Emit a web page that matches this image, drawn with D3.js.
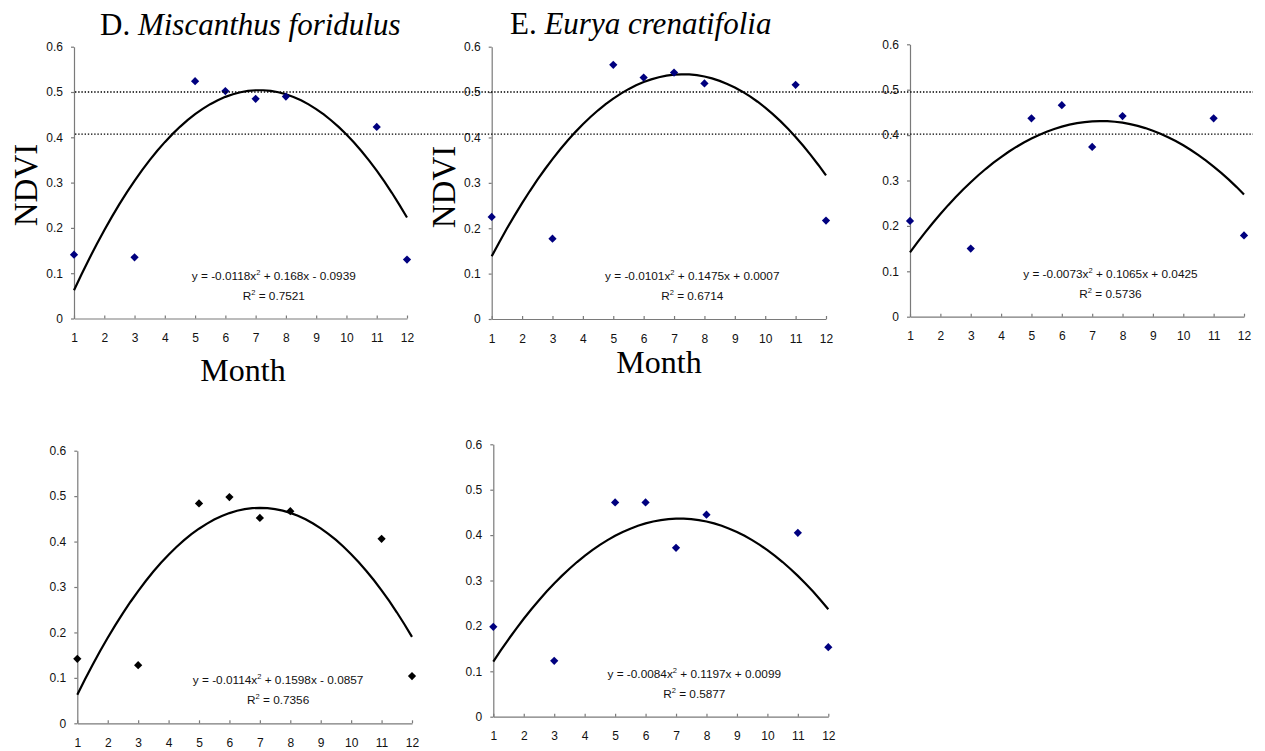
<!DOCTYPE html>
<html>
<head>
<meta charset="utf-8">
<script src="https://cdn.jsdelivr.net/npm/d3@7"></script>
<style>
  body { margin: 0; background: #fff; }
  svg { display: block; }
  .tick text { font-family: "Liberation Sans", Arial, sans-serif; font-size: 12px; fill: #111; }
  .axis path, .axis line { stroke: #7a7a7a; stroke-width: 1.2; }
</style>
</head>
<body>
<div id="chart"></div>
<script>
// months sampled in each panel
const months = [1, 3, 5, 6, 7, 8, 11, 12];
const monthTicks = [1, 2, 3, 4, 5, 6, 7, 8, 9, 10, 11, 12];
const ndviTicks = [0, 0.1, 0.2, 0.3, 0.4, 0.5, 0.6];

// NDVI values
const ndviD = [0.141, 0.135, 0.524, 0.502, 0.485, 0.490, 0.423, 0.130];
const ndviE = [0.225, 0.177, 0.560, 0.532, 0.543, 0.519, 0.516, 0.217];
const ndviC = [0.211, 0.150, 0.437, 0.466, 0.374, 0.442, 0.437, 0.179];
const ndviF = [0.142, 0.128, 0.484, 0.498, 0.452, 0.467, 0.406, 0.104];
const ndviG = [0.198, 0.123, 0.472, 0.472, 0.372, 0.445, 0.405, 0.153];

// printed trendline coefficients [a, b, c] of y = a x^2 + b x + c
const fitD = [-0.0118, 0.168, -0.0939];
const fitE = [-0.0101, 0.1475, 0.0007];
const fitC = [-0.0073, 0.1065, 0.0425];
const fitF = [-0.0114, 0.1598, -0.0857];
const fitG = [-0.0084, 0.1197, 0.0099];
const r2 = ['0.7521', '0.6714', '0.5736', '0.7356', '0.5877'];

// horizontal reference levels (dotted)
const refLevels = [0.5, 0.407];

const W = 1265, H = 751;

// panel layout: plot box in page pixels
const panels = [
  { vals: ndviD, fit: fitD, r2: r2[0], x0: 74, x1: 407, y0: 318.5, y1: 46.7, color: '#00007f',
    title: ['D. ', 'Miscanthus foridulus'], titleX: 100, titleY: 35, ylab: { x: 37, y: 185 }, xlab: { x: 243, y: 381 } },
  { vals: ndviE, fit: fitE, r2: r2[1], x0: 491.7, x1: 826, y0: 319, y1: 46.7, color: '#00007f',
    title: ['E. ', 'Eurya crenatifolia'], titleX: 510, titleY: 34, ylab: { x: 455, y: 187 }, xlab: { x: 659, y: 373 } },
  { vals: ndviC, fit: fitC, r2: r2[2], x0: 910, x1: 1244, y0: 316.7, y1: 44.3, color: '#00007f' },
  { vals: ndviF, fit: fitF, r2: r2[3], x0: 77.3, x1: 412, y0: 723.3, y1: 450.7, color: '#000000' },
  { vals: ndviG, fit: fitG, r2: r2[4], x0: 493.3, x1: 828.3, y0: 716.7, y1: 444.3, color: '#00007f' }
];

const svg = d3.select('#chart').append('svg')
  .attr('width', W)
  .attr('height', H)
  .attr('viewBox', `0 0 ${W} ${H}`);

svg.append('rect').attr('width', W).attr('height', H).attr('fill', '#fff');

function eqParts(f) {
  const sgn = v => (v < 0 ? ' - ' : ' + ');
  const num = v => String(+Math.abs(v).toFixed(4));
  return [
    'y = ' + (f[0] < 0 ? '-' : '') + num(f[0]) + 'x',
    sgn(f[1]) + num(f[1]) + 'x' + sgn(f[2]) + num(f[2])
  ];
}

let firstY = null;

panels.forEach((p, i) => {
  const x = d3.scaleLinear().domain([1, 12]).range([p.x0, p.x1]);
  const y = d3.scaleLinear().domain([0, 0.6]).range([p.y0, p.y1]);
  if (i === 0) firstY = y;

  const g = svg.append('g');

  // y axis
  g.append('g')
    .attr('class', 'axis')
    .attr('transform', `translate(${p.x0},0)`)
    .call(d3.axisLeft(y).tickValues(ndviTicks).tickSize(3).tickSizeOuter(0).tickPadding(8)
      .tickFormat(d => (d === 0 ? '0' : d3.format('.1f')(d))));

  // x axis, ticks pointing inward
  g.append('g')
    .attr('class', 'axis')
    .attr('transform', `translate(0,${p.y0})`)
    .call(d3.axisBottom(x).tickValues(monthTicks).tickSize(-3).tickSizeOuter(0).tickPadding(15));

  // trendline
  const xs = d3.range(1, 12.001, 0.25);
  const line = d3.line()
    .x(d => x(d))
    .y(d => y(p.fit[0] * d * d + p.fit[1] * d + p.fit[2]));
  g.append('path')
    .datum(xs)
    .attr('d', line)
    .attr('fill', 'none')
    .attr('stroke', '#000')
    .attr('stroke-width', 2.2);

  // markers
  g.selectAll('.pt')
    .data(months.map((m, k) => [m, p.vals[k]]))
    .enter()
    .append('path')
    .attr('class', 'pt')
    .attr('d', d3.symbol(d3.symbolSquare, 34))
    .attr('transform', d => `translate(${x(d[0])},${y(d[1])}) rotate(45)`)
    .attr('fill', p.color);

  // equation text
  const parts = eqParts(p.fit);
  const cx = x(7.6);
  const eq = g.append('text')
    .attr('x', cx)
    .attr('y', p.y0 - 39)
    .attr('text-anchor', 'middle')
    .style('font-family', '"Liberation Sans", Arial, sans-serif')
    .style('font-size', '11.8px')
    .style('fill', '#111');
  eq.append('tspan').text(parts[0]);
  eq.append('tspan').attr('dy', -5).style('font-size', '7.5px').text('2');
  eq.append('tspan').attr('dy', 5).text(parts[1]);

  const rr = g.append('text')
    .attr('x', cx)
    .attr('y', p.y0 - 19)
    .attr('text-anchor', 'middle')
    .style('font-family', '"Liberation Sans", Arial, sans-serif')
    .style('font-size', '11.8px')
    .style('fill', '#111');
  rr.append('tspan').text('R');
  rr.append('tspan').attr('dy', -5).style('font-size', '7.5px').text('2');
  rr.append('tspan').attr('dy', 5).text(' = ' + p.r2);

  if (p.title) {
    const t = svg.append('text')
      .attr('x', p.titleX)
      .attr('y', p.titleY)
      .style('font-family', '"Liberation Serif", "Times New Roman", serif')
      .style('font-size', '31px')
      .style('fill', '#000');
    t.append('tspan').text(p.title[0]);
    t.append('tspan').style('font-style', 'italic').text(p.title[1]);

    svg.append('text')
      .attr('transform', `translate(${p.ylab.x},${p.ylab.y}) rotate(-90)`)
      .attr('text-anchor', 'middle')
      .style('font-family', '"Liberation Serif", "Times New Roman", serif')
      .style('font-size', '33px')
      .text('NDVI');

    svg.append('text')
      .attr('x', p.xlab.x)
      .attr('y', p.xlab.y)
      .attr('text-anchor', 'middle')
      .style('font-family', '"Liberation Serif", "Times New Roman", serif')
      .style('font-size', '32px')
      .text('Month');
  }
});

// dotted reference lines spanning the top row
svg.selectAll('.ref')
  .data(refLevels)
  .enter()
  .append('line')
  .attr('class', 'ref')
  .attr('x1', 75)
  .attr('x2', 1253)
  .attr('y1', d => firstY(d))
  .attr('y2', d => firstY(d))
  .attr('stroke', '#000')
  .attr('stroke-width', 1.4)
  .attr('stroke-dasharray', '1.4,1.8');
</script>
</body>
</html>
